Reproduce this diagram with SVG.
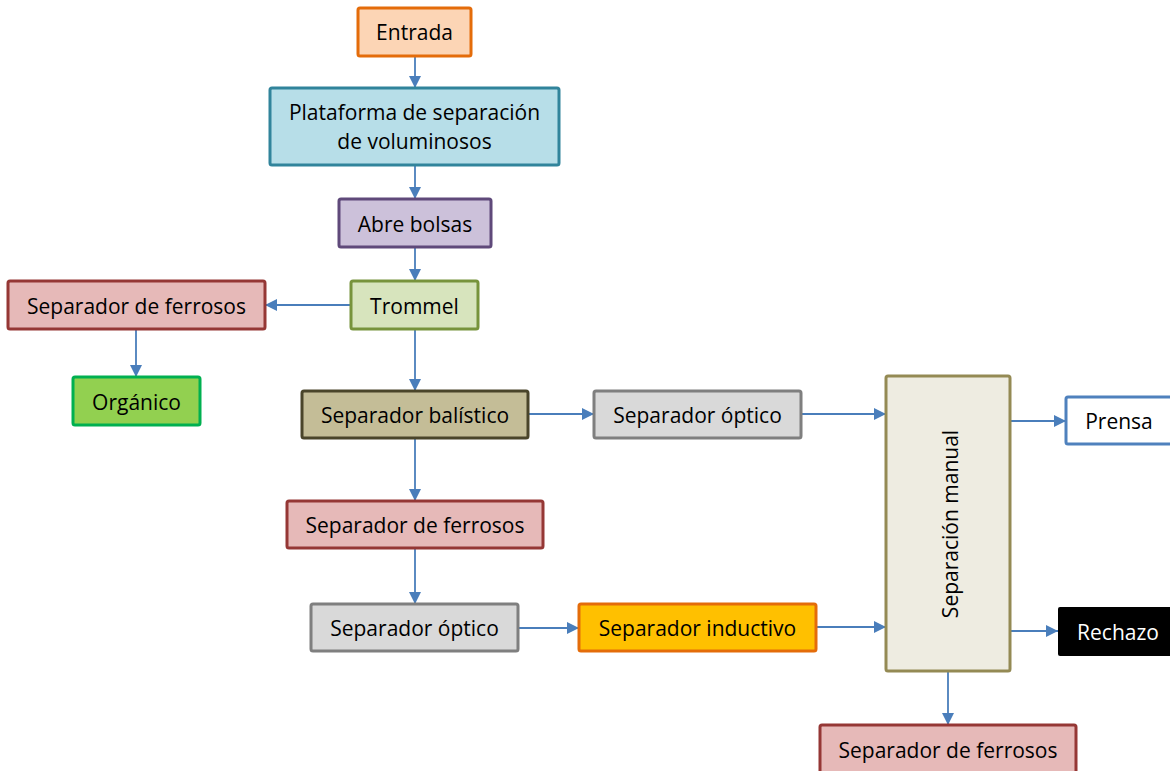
<svg xmlns="http://www.w3.org/2000/svg" width="1170" height="771" viewBox="0 0 1170 771">
  <defs>
    <style>
      .box { stroke-width: 3; }
      .lbl { font-family: "Open Sans", "Liberation Sans", sans-serif; font-size: 21px; fill: #000; text-anchor: middle; dominant-baseline: central; }
      .conn { stroke: #4a7ebb; stroke-width: 1.8; fill: none; marker-end: url(#arrow); }
    </style>
    <marker id="arrow" viewBox="0 0 12 12" refX="12" refY="6" markerWidth="12" markerHeight="12" markerUnits="userSpaceOnUse" orient="auto">
      <path d="M0,0 L12,6 L0,12 Z" fill="#4a7ebb"/>
    </marker>
  </defs>
  <rect width="1170" height="771" fill="#ffffff"/>

  <g id="connectors">
    <line class="conn" x1="415" y1="56" x2="415" y2="88"/>
    <line class="conn" x1="415" y1="165" x2="415" y2="199"/>
    <line class="conn" x1="415" y1="247" x2="415" y2="281"/>
    <line class="conn" x1="351" y1="305" x2="265" y2="305"/>
    <line class="conn" x1="136" y1="329" x2="136" y2="377"/>
    <line class="conn" x1="415" y1="329" x2="415" y2="391"/>
    <line class="conn" x1="528" y1="414" x2="594" y2="414"/>
    <line class="conn" x1="801" y1="414" x2="886" y2="414"/>
    <line class="conn" x1="1010" y1="421" x2="1066" y2="421"/>
    <line class="conn" x1="415" y1="438" x2="415" y2="501"/>
    <line class="conn" x1="415" y1="548" x2="415" y2="604"/>
    <line class="conn" x1="518" y1="628" x2="579" y2="628"/>
    <line class="conn" x1="816" y1="627" x2="886" y2="627"/>
    <line class="conn" x1="1010" y1="631" x2="1058" y2="631"/>
    <line class="conn" x1="948" y1="671" x2="948" y2="725"/>
  </g>

  <g id="entrada">
    <rect class="box" x="358" y="8" width="113" height="48" rx="2" fill="#fcd5b5" stroke="#e46c0a"/>
    <text class="lbl" x="414.5" y="31.5">Entrada</text>
  </g>
  <g id="plataforma">
    <rect class="box" x="270" y="88" width="289" height="77" rx="2" fill="#b7dee8" stroke="#31849b"/>
    <text class="lbl" x="414.5" y="111.5">Plataforma de separación</text>
    <text class="lbl" x="414.5" y="140.5">de voluminosos</text>
  </g>
  <g id="abre-bolsas">
    <rect class="box" x="339" y="199" width="152" height="48" rx="2" fill="#ccc1da" stroke="#5f497a"/>
    <text class="lbl" x="415" y="223.5">Abre bolsas</text>
  </g>
  <g id="trommel">
    <rect class="box" x="351" y="281" width="127" height="48" rx="2" fill="#d7e4bd" stroke="#77933c"/>
    <text class="lbl" x="414.5" y="305.5">Trommel</text>
  </g>
  <g id="ferrosos-1">
    <rect class="box" x="8" y="281" width="257" height="48" rx="2" fill="#e6b9b8" stroke="#953735"/>
    <text class="lbl" x="136.5" y="305.5">Separador de ferrosos</text>
  </g>
  <g id="organico">
    <rect class="box" x="73" y="377" width="127" height="48" rx="2" fill="#92d050" stroke="#00b050"/>
    <text class="lbl" x="136.5" y="401.5">Orgánico</text>
  </g>
  <g id="balistico">
    <rect class="box" x="302" y="391" width="226" height="47" rx="2" fill="#c4bd97" stroke="#4a452a"/>
    <text class="lbl" x="415" y="414.5">Separador balístico</text>
  </g>
  <g id="optico-1">
    <rect class="box" x="594" y="391" width="207" height="47" rx="2" fill="#d9d9d9" stroke="#7f7f7f"/>
    <text class="lbl" x="697.5" y="414.5">Separador óptico</text>
  </g>
  <g id="manual">
    <rect class="box" x="886" y="376" width="124" height="295" rx="2" fill="#eeece1" stroke="#948a54"/>
    <text class="lbl" x="0" y="0" transform="translate(950 524) rotate(-90)">Separación manual</text>
  </g>
  <g id="prensa">
    <rect class="box" x="1066" y="397" width="110" height="47" rx="2" fill="#ffffff" stroke="#4f81bd"/>
    <text class="lbl" x="1119" y="420.5">Prensa</text>
  </g>
  <g id="ferrosos-2">
    <rect class="box" x="287" y="501" width="256" height="47" rx="2" fill="#e6b9b8" stroke="#953735"/>
    <text class="lbl" x="415" y="524.5">Separador de ferrosos</text>
  </g>
  <g id="optico-2">
    <rect class="box" x="311" y="604" width="207" height="47" rx="2" fill="#d9d9d9" stroke="#7f7f7f"/>
    <text class="lbl" x="414.5" y="627.5">Separador óptico</text>
  </g>
  <g id="inductivo">
    <rect class="box" x="579" y="604" width="237" height="47" rx="2" fill="#ffc000" stroke="#e46c0a"/>
    <text class="lbl" x="697.5" y="627.5">Separador inductivo</text>
  </g>
  <g id="rechazo">
    <rect x="1058" y="607" width="120" height="49" rx="2" fill="#000000"/>
    <text class="lbl" x="1118" y="631.5" style="fill:#ffffff">Rechazo</text>
  </g>
  <g id="ferrosos-3">
    <rect class="box" x="820" y="725" width="256" height="52" rx="2" fill="#e6b9b8" stroke="#953735"/>
    <text class="lbl" x="948" y="749.5">Separador de ferrosos</text>
  </g>
</svg>
